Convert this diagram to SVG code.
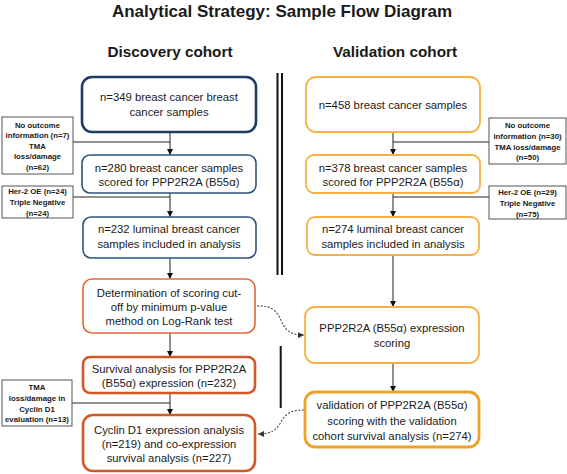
<svg xmlns="http://www.w3.org/2000/svg" width="567" height="474" viewBox="0 0 567 474">
<defs>
<marker id="arr" markerUnits="userSpaceOnUse" markerWidth="6" markerHeight="6" refX="6" refY="3" orient="auto">
<path d="M0,0 L6,3 L0,6 z" fill="#111"/>
</marker>
<marker id="arrd" markerUnits="userSpaceOnUse" markerWidth="6" markerHeight="6" refX="6" refY="3" orient="auto">
<path d="M0,0 L6,3 L0,6 z" fill="#333"/>
</marker>
<style>
text{font-family:"Liberation Sans",Arial,sans-serif;fill:#1a1a1a;text-anchor:middle}
.t{font-size:17px;font-weight:bold}
.h{font-size:15.3px;font-weight:bold}
.m{font-size:11.3px}
.n{font-size:7.8px;font-weight:bold}
.note{fill:#fff;stroke:#555;stroke-width:1}
.blue{fill:#fff;stroke:#2e5380;stroke-width:1.6}
.blueT{fill:#fff;stroke:#1f3d63;stroke-width:2.6}
.red{fill:#fff;stroke:#e0693c;stroke-width:1.6}
.redT{fill:#fff;stroke:#d4572a;stroke-width:2.6}
.yel{fill:#fff;stroke:#f6b244;stroke-width:1.8}
.yelT{fill:#fff;stroke:#f0a228;stroke-width:2.8}
.ln{fill:none;stroke:#222;stroke-width:1}
.dash{fill:none;stroke:#444;stroke-width:1.1;stroke-dasharray:2,1.6}
.bar{stroke:#111;stroke-width:2}
</style>
</defs>

<g id="titles">
<text class="t" x="282" y="16.5">Analytical Strategy: Sample Flow Diagram</text>
<text class="h" x="170" y="56.5">Discovery cohort</text>
<text class="h" x="395" y="56.5">Validation cohort</text>
</g>

<g id="dividers">
<line class="bar" x1="277.5" y1="73" x2="277.5" y2="275"/>
<line class="bar" x1="282" y1="73" x2="282" y2="275"/>
<line class="bar" x1="280.7" y1="346" x2="280.7" y2="408"/>
</g>

<g id="connectors">
<polyline class="ln" points="73,142 170,142"/>
<line class="ln" x1="170" y1="132" x2="170" y2="155" marker-end="url(#arr)"/>
<polyline class="ln" points="73,197 170,197"/>
<line class="ln" x1="170" y1="193" x2="170" y2="217" marker-end="url(#arr)"/>
<line class="ln" x1="170" y1="258" x2="170" y2="279" marker-end="url(#arr)"/>
<line class="ln" x1="170" y1="333" x2="170" y2="357" marker-end="url(#arr)"/>
<polyline class="ln" points="72,403 170,403"/>
<line class="ln" x1="170" y1="393" x2="170" y2="415" marker-end="url(#arr)"/>
<polyline class="ln" points="489,142 393,142"/>
<line class="ln" x1="393" y1="132" x2="393" y2="155" marker-end="url(#arr)"/>
<polyline class="ln" points="489,197 393,197"/>
<line class="ln" x1="393" y1="193" x2="393" y2="217" marker-end="url(#arr)"/>
<line class="ln" x1="393" y1="255" x2="393" y2="307" marker-end="url(#arr)"/>
<line class="ln" x1="393" y1="363" x2="393" y2="392" marker-end="url(#arr)"/>
<path class="dash" d="M257,306 C290,304 272,336 304,335" marker-end="url(#arrd)"/>
<path class="dash" d="M304,410 C272,410 290,434 258,434" marker-end="url(#arrd)"/>
</g>

<g id="d1">
<rect class="blueT" x="82" y="77" width="174" height="55" rx="10"/>
<text class="m" x="169" y="100.5">n=349 breast cancer breast</text>
<text class="m" x="169" y="116">cancer samples</text>
</g>
<g id="d-excl1">
<rect class="note" x="2" y="117" width="71" height="57"/>
<text class="n" x="37.5" y="128">No outcome</text>
<text class="n" x="37.5" y="138">information (n=7)</text>
<text class="n" x="37.5" y="148.5">TMA</text>
<text class="n" x="37.5" y="159">loss/damage</text>
<text class="n" x="37.5" y="169.5">(n=62)</text>
</g>
<g id="d2">
<rect class="blue" x="82" y="155" width="174" height="38" rx="8"/>
<text class="m" x="169" y="172">n=280 breast cancer samples</text>
<text class="m" x="169" y="186">scored for PPP2R2A (B55α)</text>
</g>
<g id="d-excl2">
<rect class="note" x="2" y="186" width="71" height="32"/>
<text class="n" x="37.5" y="194">Her-2 OE (n=24)</text>
<text class="n" x="37.5" y="205">Triple Negative</text>
<text class="n" x="37.5" y="216">(n=24)</text>
</g>
<g id="d3">
<rect class="blue" x="83" y="217" width="173" height="41" rx="8"/>
<text class="m" x="169" y="233">n=232 luminal breast cancer</text>
<text class="m" x="169" y="248">samples included in analysis</text>
</g>
<g id="d4">
<rect class="red" x="83" y="279" width="172" height="54" rx="9"/>
<text class="m" x="169" y="297">Determination of scoring cut-</text>
<text class="m" x="169" y="311">off by minimum p-value</text>
<text class="m" x="169" y="324.5">method on Log-Rank test</text>
</g>
<g id="d5">
<rect class="redT" x="83" y="357" width="172" height="36" rx="7"/>
<text class="m" x="169" y="373">Survival analysis for PPP2R2A</text>
<text class="m" x="169" y="386.5">(B55α) expression  (n=232)</text>
</g>
<g id="d-excl3">
<rect class="note" x="2" y="380" width="70" height="46"/>
<text class="n" x="37" y="390">TMA</text>
<text class="n" x="37" y="400.5">loss/damage in</text>
<text class="n" x="37" y="411.5">Cyclin D1</text>
<text class="n" x="37" y="422">evaluation (n=13)</text>
</g>
<g id="d6">
<rect class="redT" x="83" y="415" width="172" height="56" rx="10"/>
<text class="m" x="169" y="434">Cyclin D1 expression analysis</text>
<text class="m" x="169" y="448">(n=219) and co-expression</text>
<text class="m" x="169" y="461.5">survival analysis (n=227)</text>
</g>

<g id="v1">
<rect class="yel" x="306" y="77" width="174" height="55" rx="10"/>
<text class="m" x="393" y="109">n=458 breast cancer samples</text>
</g>
<g id="v-excl1">
<rect class="note" x="489" y="118" width="77" height="46"/>
<text class="n" x="527.5" y="128">No outcome</text>
<text class="n" x="527.5" y="139">information (n=30)</text>
<text class="n" x="527.5" y="149.5">TMA loss/damage</text>
<text class="n" x="527.5" y="160">(n=50)</text>
</g>
<g id="v2">
<rect class="yel" x="306" y="155" width="174" height="38" rx="8"/>
<text class="m" x="393" y="172">n=378 breast cancer samples</text>
<text class="m" x="393" y="186">scored for PPP2R2A (B55α)</text>
</g>
<g id="v-excl2">
<rect class="note" x="489" y="186" width="77" height="33"/>
<text class="n" x="527.5" y="195">Her-2 OE (n=29)</text>
<text class="n" x="527.5" y="206">Triple Negative</text>
<text class="n" x="527.5" y="217">(n=75)</text>
</g>
<g id="v3">
<rect class="yel" x="307" y="217" width="172" height="38" rx="8"/>
<text class="m" x="393" y="233">n=274 luminal breast cancer</text>
<text class="m" x="393" y="248">samples included in analysis</text>
</g>
<g id="v4">
<rect class="yel" x="305" y="307" width="174" height="56" rx="10"/>
<text class="m" x="392" y="332">PPP2R2A (B55α) expression</text>
<text class="m" x="392" y="347">scoring</text>
</g>
<g id="v5">
<rect class="yelT" x="305" y="392" width="174" height="55" rx="10"/>
<text class="m" x="392" y="409">validation of PPP2R2A (B55α)</text>
<text class="m" x="392" y="425">scoring with the validation</text>
<text class="m" x="392" y="440">cohort survival analysis (n=274)</text>
</g>
</svg>
